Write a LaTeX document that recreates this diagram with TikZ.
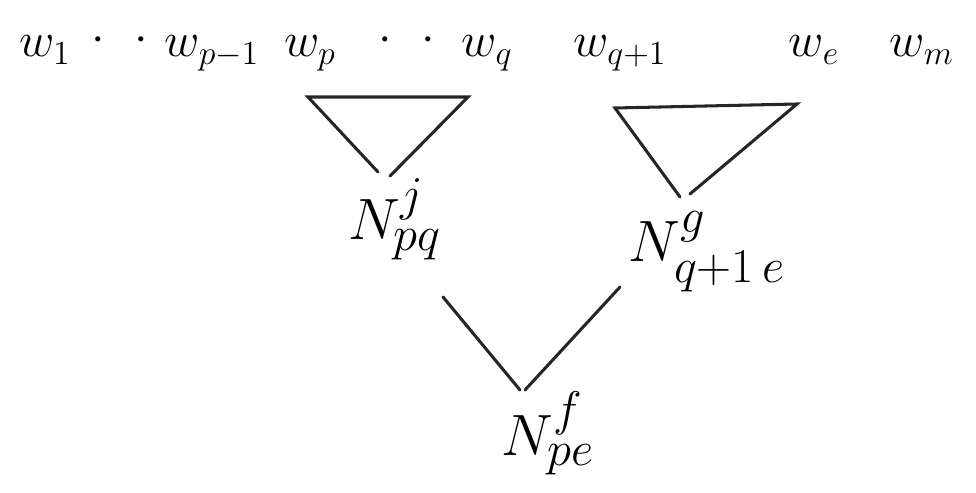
\documentclass[tikz,border=0pt]{standalone}
\usepackage{amsmath}
\usepackage{tikz}
\usetikzlibrary{calc}
\tikzset{
  word/.style ={anchor=base, inner sep=1pt, font=\huge},
  nterm/.style={anchor=base, inner sep=1pt, font=\Huge},
  edge/.style ={draw=black!85, line width=1.3pt, line cap=round},
}

\begin{document}
\begin{tikzpicture}[x=0.15mm, y=-0.15mm]
  \useasboundingbox (0,0) rectangle (976,493);
  % the sentence
  \node[word] (w1)   at (45,57)  {$w_1$};
  \node[word] (d1)   at (120,52) {$\cdot\ \ \cdot$};
  \node[word] (wp1)  at (212,57) {$w_{p-1}$};
  \node[word] (wp)   at (310,57) {$w_p$};
  \node[word] (d2)   at (407,52) {$\cdot\ \ \cdot$};
  \node[word] (wq)   at (487,57) {$w_q$};
  \node[word] (wq1)  at (620,57) {$w_{q+1}$};
  \node[word] (we)   at (814,57) {$w_e$};
  \node[word] (wm)   at (922,57) {$w_m$};
  % constituents
  \node[nterm] (Nj) at (395,240) {$N^j_{pq}$};
  \node[nterm] (Ng) at (707,262) {$N^g_{q+1\,e}$};
  \node[nterm] (Nf) at (548,455) {$N^f_{pe}$};
  % left subtree
  \coordinate (jl) at (308,97);
  \coordinate (jr) at (468,97);
  \coordinate (jb) at (378,172);
  \coordinate (jc) at (390,176);
  \draw[edge] (jb) -- (jl) -- (jr) -- (jc);
  % right subtree
  \coordinate (gl) at (615,108);
  \coordinate (gr) at (797,104);
  \coordinate (gb) at (680,197);
  \coordinate (gc) at (690,194);
  \draw[edge] (gb) -- (gl) -- (gr) -- (gc);
  % parent
  \coordinate (fl) at (443,297);
  \coordinate (fr) at (620,287);
  \coordinate (fb) at (520,390);
  \coordinate (fc) at (525,390);
  \draw[edge] (fl) -- (fb);
  \draw[edge] (fr) -- (fc);
\end{tikzpicture}
\end{document}
